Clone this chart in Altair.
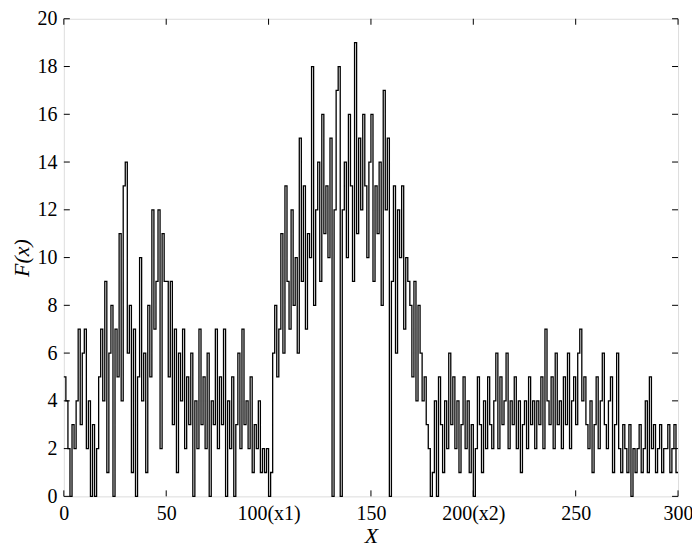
import altair as alt
import pandas as pd

x_vals = list(range(301))
f_vals = [
    5, 4, 2, 0, 3, 2, 4, 7, 3, 6,
    7, 2, 4, 0, 3, 0, 2, 5, 7, 4,
    9, 1, 6, 8, 0, 7, 5, 11, 4, 13,
    14, 6, 8, 1, 7, 0, 5, 10, 4, 6,
    1, 8, 5, 12, 7, 9, 12, 2, 11, 9,
    9, 5, 9, 3, 7, 1, 6, 4, 7, 2,
    5, 3, 6, 0, 4, 2, 7, 3, 5, 2,
    6, 0, 4, 3, 7, 2, 5, 3, 7, 0,
    4, 2, 5, 0, 3, 6, 2, 7, 3, 4,
    2, 5, 1, 3, 2, 4, 1, 2, 1, 2,
    0, 1, 6, 8, 5, 7, 11, 6, 13, 9,
    7, 12, 8, 10, 6, 15, 9, 13, 7, 11,
    10, 18, 8, 12, 14, 9, 16, 11, 13, 10,
    15, 0, 12, 17, 18, 0, 12, 14, 10, 16,
    13, 9, 19, 11, 15, 12, 16, 13, 10, 14,
    16, 9, 13, 11, 14, 8, 17, 12, 15, 0,
    9, 13, 6, 12, 10, 13, 7, 10, 9, 8,
    5, 9, 4, 8, 6, 4, 5, 3, 2, 0,
    1, 4, 0, 5, 3, 1, 4, 2, 6, 3,
    5, 2, 4, 1, 3, 5, 2, 4, 1, 3,
    0, 2, 5, 3, 1, 4, 2, 5, 3, 2,
    4, 6, 2, 5, 3, 4, 6, 2, 4, 3,
    5, 2, 4, 1, 3, 4, 2, 5, 3, 4,
    2, 4, 3, 5, 2, 7, 4, 3, 5, 2,
    6, 3, 4, 2, 5, 3, 6, 2, 4, 5,
    3, 6, 7, 4, 5, 3, 2, 4, 1, 3,
    5, 2, 4, 6, 3, 2, 4, 5, 1, 3,
    6, 2, 1, 3, 2, 1, 3, 0, 2, 1,
    2, 3, 1, 2, 4, 1, 5, 2, 3, 1,
    2, 3, 1, 2, 2, 3, 1, 2, 3, 1,
    1,
]
x_ticks = [0, 50, 100, 150, 200, 250, 300]
x_tick_labels = ["0", "50", "100(x1)", "150", "200(x2)", "250", "300"]
y_ticks = list(range(0, 21, 2))

df = pd.DataFrame({"x": x_vals, "F": f_vals})
xt = pd.DataFrame({"t": x_ticks})
yt = pd.DataFrame({"t": y_ticks})

W, H = 616, 479
FONT = "Liberation Serif"
TL = 6

label_expr = " : ".join(
    f"datum.value == {v} ? '{lab}'" for v, lab in zip(x_ticks, x_tick_labels)
) + " : datum.label"

xscale = alt.Scale(domain=[0, 300], nice=False, zero=False)
yscale = alt.Scale(domain=[0, 20], nice=False)

line = alt.Chart(df).mark_line(
    interpolate="step-after", color="black", strokeWidth=1.3
).encode(
    x=alt.X("x:Q", scale=xscale,
            axis=alt.Axis(values=x_ticks, labelExpr=label_expr, title="X",
                          titleFontStyle="italic", ticks=False, grid=False,
                          domain=False, labelFont=FONT, labelFontSize=20,
                          titleFont=FONT, titleFontSize=22, titleFontWeight="normal",
                          labelColor="black", titleColor="black",
                          labelPadding=7, titlePadding=2, labelFlush=False)),
    y=alt.Y("F:Q", scale=yscale,
            axis=alt.Axis(values=y_ticks, title="F(x)", titleFontStyle="italic",
                          ticks=False, grid=False, domain=False, labelFont=FONT,
                          labelFontSize=20, titleFont=FONT, titleFontSize=22,
                          titleFontWeight="normal", labelColor="black",
                          titleColor="black", labelPadding=7, titlePadding=3,
                          labelFlush=False)),
)

tick_style = dict(color="black", strokeWidth=1)
xb = alt.Chart(xt).mark_rule(**tick_style).encode(
    x=alt.X("t:Q", scale=xscale), y=alt.value(H), y2=alt.value(H - TL))
xtop = alt.Chart(xt).mark_rule(**tick_style).encode(
    x=alt.X("t:Q", scale=xscale), y=alt.value(0), y2=alt.value(TL))
yl = alt.Chart(yt).mark_rule(**tick_style).encode(
    y=alt.Y("t:Q", scale=yscale), x=alt.value(0), x2=alt.value(TL))
yr = alt.Chart(yt).mark_rule(**tick_style).encode(
    y=alt.Y("t:Q", scale=yscale), x=alt.value(W), x2=alt.value(W - TL))

chart = alt.layer(line, xb, xtop, yl, yr).properties(
    width=W, height=H,
    autosize=alt.AutoSizeParams(type="none"),
    padding={"left": 56, "top": 10, "right": 14, "bottom": 55},
).configure_view(stroke="black", strokeWidth=1.2).configure(background="white")

chart.save("out.html", embed_options={"renderer": "svg", "actions": False})
